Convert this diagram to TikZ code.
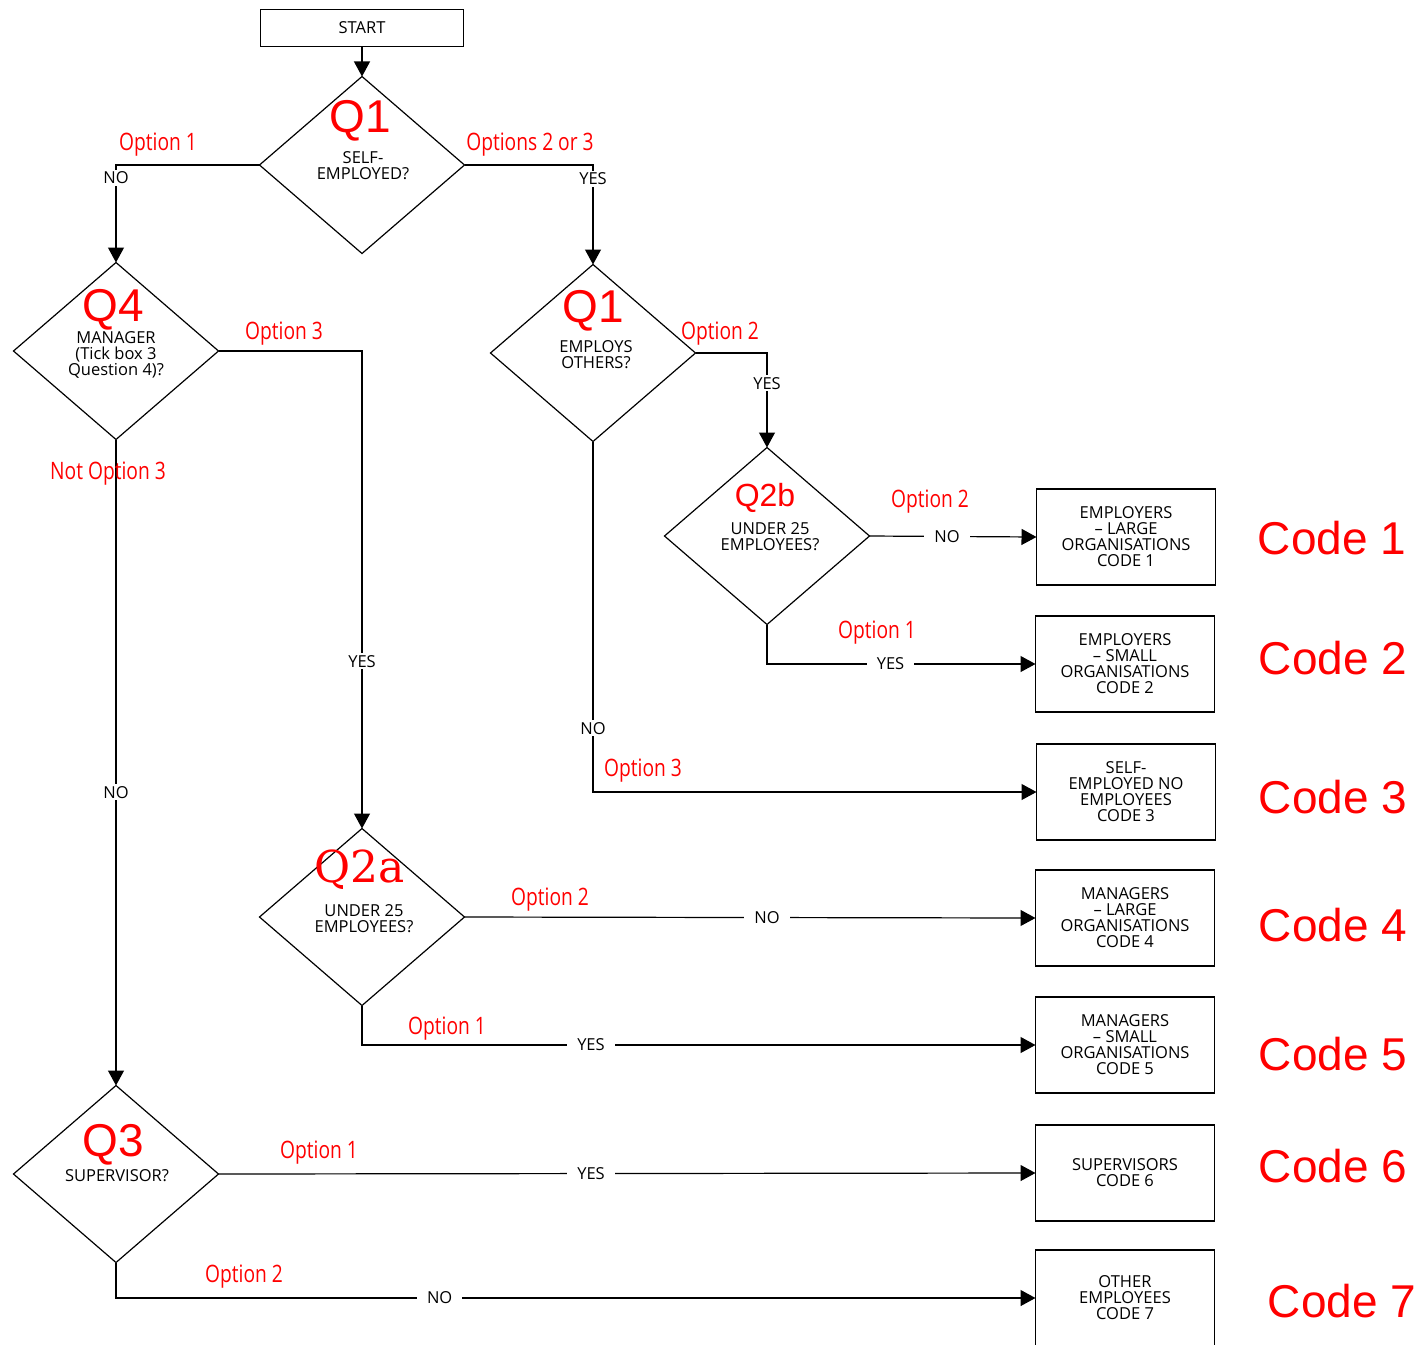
\documentclass[tikz,border=0pt]{standalone}
\usepackage{fontspec}
\setmainfont{Open Sans}
\newfontfamily\arialfont{Liberation Sans}
\newfontfamily\narrowfont[FakeStretch=0.8]{Open Sans}
\newfontfamily\qserif{DejaVu Serif}
\usetikzlibrary{shapes.geometric,arrows.meta,positioning}

\tikzset{
  dia/.style={draw, shape=diamond, minimum width=205pt, minimum height=177pt,
    inner sep=0pt, outer sep=0pt, line width=1.2pt},
  outbox/.style={draw, minimum width=179pt, minimum height=96pt, inner sep=0pt,
    outer sep=0pt, align=center, font=\fontsize{16.5}{16}\selectfont, line width=1.2pt},
  dtext/.style={align=center, font=\fontsize{16.5}{16}\selectfont, inner sep=0pt},
  qlab/.style={text=red, font=\arialfont\fontsize{46}{46}\selectfont, inner sep=0pt},
  codelab/.style={text=red, font=\arialfont\fontsize{46}{46}\selectfont, inner sep=0pt},
  opt/.style={text=red, font=\narrowfont\fontsize{24}{24}\selectfont, inner sep=0pt},
  yn/.style={fill=white, font=\fontsize{16.5}{16}\selectfont, inner xsep=10pt, inner ysep=2pt},
  conn/.style={line width=1.2pt, -{Triangle[length=15pt,width=16pt]}},
}

\begin{document}
\begin{tikzpicture}[x=1pt, y=-1pt]
        \useasboundingbox (0,0) rectangle (1426,1344);

        % start and questions
        \node[draw, line width=1.2pt, minimum width=203pt, minimum height=37pt,
          inner sep=0pt, outer sep=0pt, font=\fontsize{16.5}{16}\selectfont] (start) at (362,28) {START};

        \node[dia] (q1) at (362,165) {};
        \node[qlab] (q1l) at (360,121) {Q1};
        \node[dtext] (q1t) at (363,166) {SELF-\\EMPLOYED?};

        \node[dia] (q4) at (116,351) {};
        \node[qlab] (q4l) at (113,310) {Q4};
        \node[dtext] (q4t) at (116,355) {MANAGER\\(Tick box 3\\Question 4)?};

        \node[dia] (qe) at (593,353) {};
        \node[qlab] (qel) at (593,311) {Q1};
        \node[dtext] (qet) at (596,355) {EMPLOYS\\OTHERS?};

        \node[dia] (q2b) at (767,536) {};
        \node[qlab, font=\arialfont\fontsize{32}{32}\selectfont] (q2bl) at (765,498) {Q2b};
        \node[dtext] (q2bt) at (770,537) {UNDER 25\\EMPLOYEES?};

        \node[dia] (q2a) at (362,917) {};
        \node[text=red, font=\qserif\fontsize{44}{44}\selectfont, inner sep=0pt] (q2al) at (360,870) {Q2a};
        \node[dtext] (q2at) at (364,919) {UNDER 25\\EMPLOYEES?};

        \node[dia] (q3) at (116,1174) {};
        \node[qlab] (q3l) at (113,1145) {Q3};
        \node[dtext] (q3t) at (117,1176) {SUPERVISOR?};

        % outcomes
        \node[outbox] (c1) at (1126,537) {EMPLOYERS\\-- LARGE\\ORGANISATIONS\\CODE 1};
        \node[outbox] (c2) at (1125,664) {EMPLOYERS\\-- SMALL\\ORGANISATIONS\\CODE 2};
        \node[outbox] (c3) at (1126,792) {SELF-\\EMPLOYED NO\\EMPLOYEES\\CODE 3};
        \node[outbox] (c4) at (1125,918) {MANAGERS\\-- LARGE\\ORGANISATIONS\\CODE 4};
        \node[outbox] (c5) at (1125,1045) {MANAGERS\\-- SMALL\\ORGANISATIONS\\CODE 5};
        \node[outbox] (c6) at (1125,1173) {SUPERVISORS\\CODE 6};
        \node[outbox] (c7) at (1125,1298) {OTHER\\EMPLOYEES\\CODE 7};

        \node[codelab] (k1) at (1332,538) {Code 1};
        \node[codelab] (k2) at (1333,658) {Code 2};
        \node[codelab] (k3) at (1333,797) {Code 3};
        \node[codelab] (k4) at (1333,925) {Code 4};
        \node[codelab] (k5) at (1333,1054) {Code 5};
        \node[codelab] (k6) at (1333,1166) {Code 6};
        \node[codelab] (k7) at (1342,1301) {Code 7};

        % connectors
        \draw[conn] (start) -- (q1);
        \draw[conn] (q1.west) -| node[yn, pos=0.567] {NO} (q4.north);
        \draw[conn] (q1.east) -| node[yn, pos=0.57] {YES} (qe.north);
        \draw[conn] (q4.east) -| node[yn, pos=0.825] {YES} (q2a.north);
        \draw[conn] (q4.south) -- node[yn, pos=0.546] {NO} (q3.north);
        \draw[conn] (qe.east) -| node[yn, pos=0.66] {YES} (q2b.north);
        \draw[conn] (qe.south) |- node[yn, pos=0.409] {NO} (c3.west);
        \draw[conn] (q2b.east) -- node[yn, pos=0.464] {NO} (c1.west);
        \draw[conn] (q2b.south) |- node[yn, pos=0.73] {YES} (c2.west);
        \draw[conn] (q2a.east) -- node[yn, pos=0.53] {NO} (c4.west);
        \draw[conn] (q2a.south) |- node[yn, pos=0.67] {YES} (c5.west);
        \draw[conn] (q3.east) -- node[yn, pos=0.456] {YES} (c6.west);
        \draw[conn] (q3.south) |- node[yn, pos=0.676] {NO} (c7.west);

        % option labels
        \node[opt] (o1) at (158,145) {Option 1};
        \node[opt] (o2) at (530,145) {Options 2 or 3};
        \node[opt] (o3) at (284,334) {Option 3};
        \node[opt] (o4) at (108,474) {Not Option 3};
        \node[opt] (o5) at (720,334) {Option 2};
        \node[opt] (o6) at (930,502) {Option 2};
        \node[opt] (o7) at (877,633) {Option 1};
        \node[opt] (o8) at (643,771) {Option 3};
        \node[opt] (o9) at (550,900) {Option 2};
        \node[opt] (o10) at (447,1029) {Option 1};
        \node[opt] (o11) at (319,1153) {Option 1};
        \node[opt] (o12) at (244,1277) {Option 2};
\end{tikzpicture}
\end{document}
